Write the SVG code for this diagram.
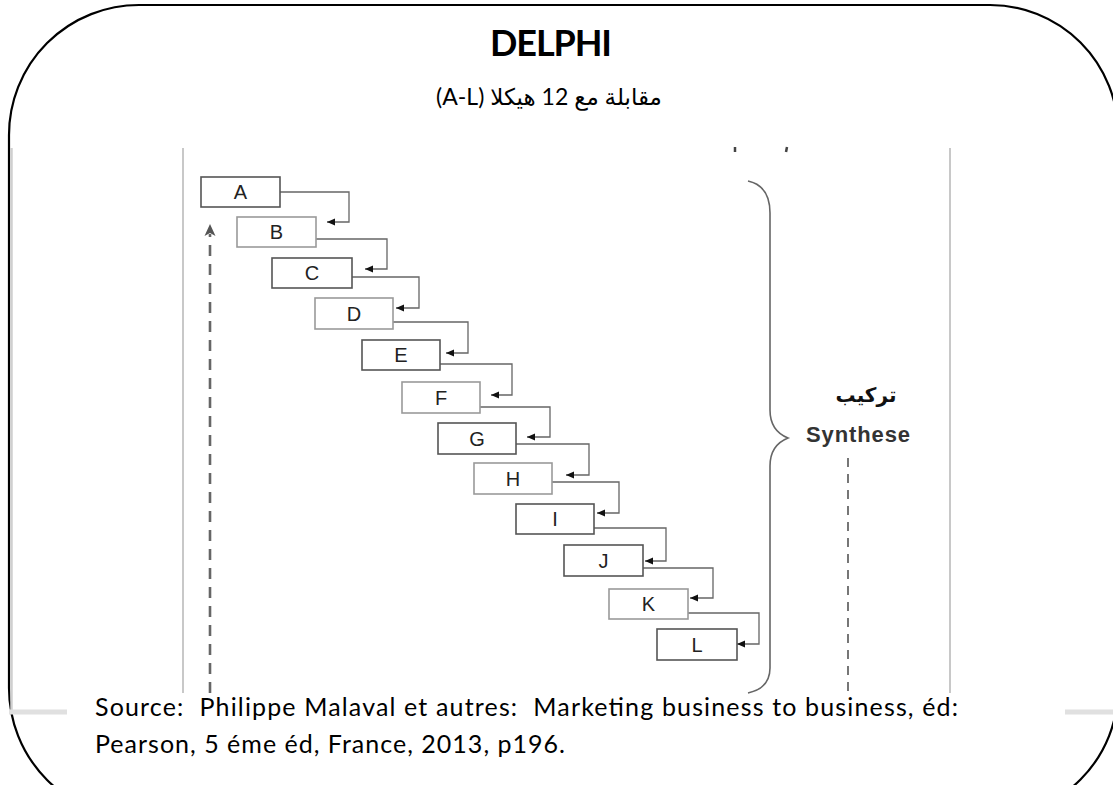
<svg xmlns="http://www.w3.org/2000/svg" width="1113" height="785" viewBox="0 0 1113 785">
  <style>
    .frame { fill: none; stroke: #000; stroke-width: 2.2; }
    .rule { stroke: #c8c8c8; stroke-width: 2; }
    .box { fill: #fff; stroke-width: 1.6; }
    .dark { stroke: #555; }
    .light { stroke: #9a9a9a; }
    .lbl { font-family: "Liberation Sans", Arial, sans-serif; font-size: 20px; fill: #222; text-anchor: middle; }
    .link { fill: none; stroke: #666; stroke-width: 1.3; marker-end: url(#tip); }
    .title { font-family: Lato, "Open Sans", sans-serif; font-weight: bold; font-size: 36px; fill: #000; text-anchor: middle; }
    .sub { font-family: Lato, "DejaVu Sans", sans-serif; font-size: 23px; fill: #000; text-anchor: middle; }
    .src { font-family: Lato, "Open Sans", sans-serif; font-size: 25px; fill: #000; white-space: pre; }
  </style>
  <defs>
    <marker id="tip" markerUnits="userSpaceOnUse" markerWidth="9" markerHeight="8" refX="8" refY="3.5" orient="auto">
      <path d="M0,0 L8,3.5 L0,7 Z" fill="#111"/>
    </marker>
  </defs>

  <rect width="1113" height="785" fill="#fff"/>

  <!-- outer rounded frame -->
  <path class="frame" d="M139,5 L990,5 A128,128 0 0 1 1118,133 L1118,689 A128,128 0 0 1 990,817 L139,818 A130,130 0 0 1 9,688 L9,135 A130,130 0 0 1 139,5 Z"/>

  <!-- title -->
  <text class="title" x="551" y="56" textLength="122">DELPHI</text>
  <text class="sub" x="549" y="105" direction="rtl" unicode-bidi="embed">مقابلة مع 12 هيكلا (A-L)</text>

  <!-- figure edges -->
  <line x1="11.5" y1="148" x2="11.5" y2="712" stroke="#cfcfcf" stroke-width="2.5"/>
  <line class="rule" x1="183" y1="148" x2="183" y2="693"/>
  <line class="rule" x1="950" y1="148" x2="950" y2="693"/>
  <line x1="9" y1="712" x2="67" y2="712" stroke="#e0e0e0" stroke-width="5"/>
  <line x1="1065" y1="712" x2="1113" y2="712" stroke="#e0e0e0" stroke-width="5"/>

  <!-- clipped heading marks -->
  <line x1="735" y1="147" x2="735" y2="152" stroke="#444" stroke-width="2.5"/>
  <line x1="787" y1="147" x2="786" y2="152" stroke="#444" stroke-width="2.5"/>

  <!-- feedback arrow -->
  <g id="feedback">
    <line x1="210" y1="693" x2="210" y2="234" stroke="#666" stroke-width="2.6" stroke-dasharray="11 8"/>
    <path d="M204.5,236 L210,224 L215.5,236 L210,233 Z" fill="#555"/>
  </g>

  <!-- connectors -->
  <g id="connectors">
    <path class="link" d="M280,192 H349 V222 H327"/>
    <path class="link" d="M316,239 H387 V269 H365"/>
    <path class="link" d="M352,277 H419 V308 H396"/>
    <path class="link" d="M393,322 H468 V353 H446"/>
    <path class="link" d="M440,364 H512 V395 H491"/>
    <path class="link" d="M480,407 H550 V437 H527"/>
    <path class="link" d="M516,444 H589 V475 H566"/>
    <path class="link" d="M552,482 H619 V513 H597"/>
    <path class="link" d="M594,528 H666 V561 H645"/>
    <path class="link" d="M643,568 H713 V598 H690"/>
    <path class="link" d="M688,613 H759 V644 H737"/>
  </g>

  <!-- rounds A to L -->
  <g id="node-A"><rect class="box dark" x="201" y="177" width="79" height="30"/><text class="lbl" x="240.5" y="199">A</text></g>
  <g id="node-B"><rect class="box light" x="237" y="217" width="79" height="30"/><text class="lbl" x="276.5" y="239">B</text></g>
  <g id="node-C"><rect class="box dark" x="272" y="258" width="80" height="30"/><text class="lbl" x="312" y="280">C</text></g>
  <g id="node-D"><rect class="box light" x="315" y="298" width="78" height="31"/><text class="lbl" x="354" y="321">D</text></g>
  <g id="node-E"><rect class="box dark" x="362" y="340" width="78" height="30"/><text class="lbl" x="401" y="362">E</text></g>
  <g id="node-F"><rect class="box light" x="402" y="382" width="78" height="31"/><text class="lbl" x="441" y="405">F</text></g>
  <g id="node-G"><rect class="box dark" x="438" y="423" width="78" height="31"/><text class="lbl" x="477" y="446">G</text></g>
  <g id="node-H"><rect class="box light" x="474" y="463" width="78" height="31"/><text class="lbl" x="513" y="486">H</text></g>
  <g id="node-I"><rect class="box dark" x="516" y="504" width="78" height="30"/><text class="lbl" x="555" y="526">I</text></g>
  <g id="node-J"><rect class="box dark" x="564" y="545" width="79" height="31"/><text class="lbl" x="603.5" y="568">J</text></g>
  <g id="node-K"><rect class="box light" x="609" y="589" width="79" height="30"/><text class="lbl" x="648.5" y="611">K</text></g>
  <g id="node-L"><rect class="box dark" x="657" y="629" width="80" height="31"/><text class="lbl" x="697" y="652">L</text></g>

  <!-- synthesis brace -->
  <g id="synthese">
    <path d="M748,181 C762,184 770,195 770,213 L770,410 C770,425 778,434 788,438 C778,442 770,451 770,466 L770,668 C770,682 762,690 748,693" fill="none" stroke="#666" stroke-width="1.6"/>
    <text x="866" y="402" font-family="'DejaVu Sans', sans-serif" font-weight="bold" font-size="20" fill="#111" text-anchor="middle" direction="rtl">تركيب</text>
    <text x="858" y="442" font-family="'Liberation Sans', Arial, sans-serif" font-weight="bold" font-size="22" fill="#333" text-anchor="middle" textLength="104">Synthese</text>
    <line x1="848" y1="458" x2="848" y2="693" stroke="#555" stroke-width="1.6" stroke-dasharray="9 7"/>
  </g>

  <!-- reference -->
  <text class="src" x="95" y="716" textLength="863">Source:  Philippe Malaval et autres:  Marketing business to business, éd:</text>
  <text class="src" x="95" y="753" textLength="470">Pearson, 5 éme éd, France, 2013, p196.</text>
</svg>
